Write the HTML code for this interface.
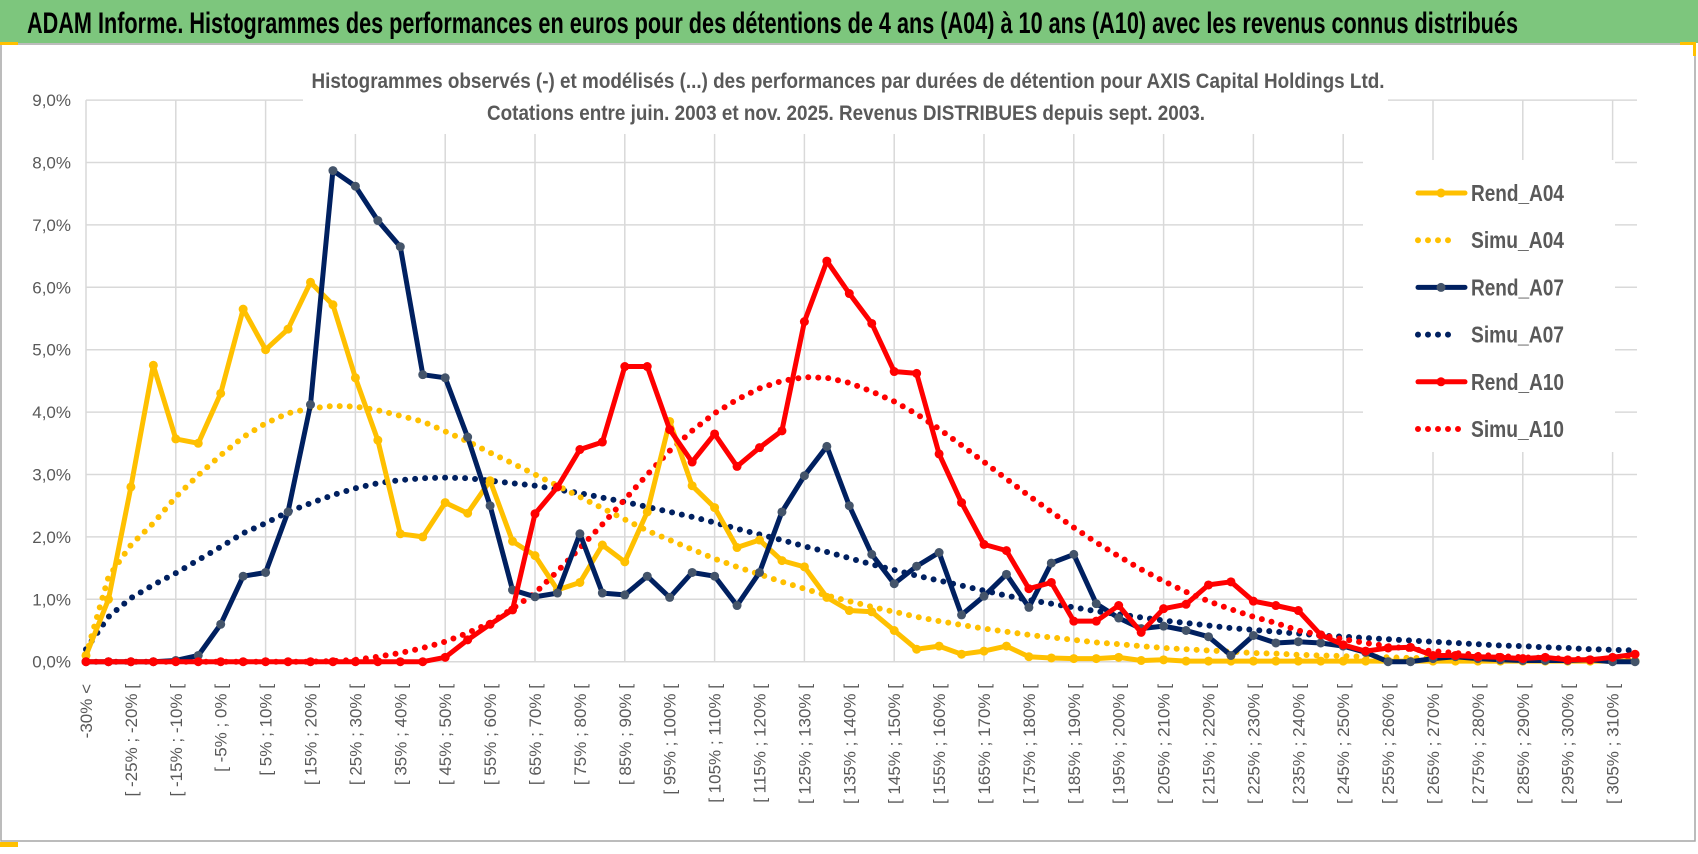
<!DOCTYPE html>
<html><head><meta charset="utf-8"><style>
html,body{margin:0;padding:0;background:#fff;}
svg{display:block;font-family:"Liberation Sans Narrow","Liberation Sans",sans-serif;}
</style></head><body>
<svg id="chart" width="1698" height="854" viewBox="0 0 1698 854" xmlns="http://www.w3.org/2000/svg">
<rect x="0" y="0" width="1698" height="854" fill="#fff"/>
<rect x="0" y="0" width="1698" height="43" fill="#7dc67d"/>
<text x="27" y="33" font-size="30" font-weight="bold" fill="#000" textLength="1491" lengthAdjust="spacingAndGlyphs">ADAM Informe. Histogrammes des performances en euros pour des détentions de 4 ans (A04) à 10 ans (A10) avec les revenus connus distribués</text>
<rect x="1" y="44" width="1694" height="797" fill="none" stroke="#a6a6a6" stroke-width="1.5"/>
<rect x="0" y="42" width="18" height="3" fill="#ffc000"/>
<rect x="1680" y="42" width="15" height="3" fill="#ffc000"/>
<rect x="1693" y="42" width="3" height="14" fill="#ffc000"/>
<rect x="0" y="842" width="18" height="5" fill="#ffc000"/>
<g id="grid"></g>
<rect x="303" y="58" width="1085" height="76" fill="#fff"/>
<text x="848" y="88" font-size="21" font-weight="bold" fill="#595959" text-anchor="middle" textLength="1073" lengthAdjust="spacingAndGlyphs">Histogrammes observés (-) et modélisés (...) des performances par durées de détention pour AXIS Capital Holdings Ltd.</text>
<text x="846" y="120" font-size="21" font-weight="bold" fill="#595959" text-anchor="middle" textLength="718" lengthAdjust="spacingAndGlyphs">Cotations entre juin. 2003 et nov. 2025. Revenus DISTRIBUES depuis sept. 2003.</text>
<g id="ylabels"></g>
<g id="xlabels"></g>
<g id="series"></g>
<g id="legend"></g>
</svg>
<script>
const categories = (function(){const c=["-30% <"];for(let i=1;i<70;i++){const a=-30+5*(i-1);c.push("[ "+a+"% ; "+(a+5)+"% [");}return c;})();
const yTicks = [0,1,2,3,4,5,6,7,8,9];
const yTickLabels = ["0,0%","1,0%","2,0%","3,0%","4,0%","5,0%","6,0%","7,0%","8,0%","9,0%"];
const seriesNames = ["Rend_A04","Simu_A04","Rend_A07","Simu_A07","Rend_A10","Simu_A10"];
const rendA04 = [0.1,1.0,2.8,4.75,3.57,3.5,4.3,5.65,5.0,5.33,6.08,5.72,4.55,3.55,2.05,2.0,2.55,2.38,2.9,1.93,1.7,1.15,1.27,1.87,1.6,2.4,3.85,2.82,2.47,1.83,1.95,1.62,1.52,1.03,0.82,0.8,0.5,0.2,0.25,0.12,0.17,0.25,0.08,0.06,0.05,0.05,0.07,0.02,0.03,0.01,0.01,0.01,0.01,0.01,0.01,0.01,0.01,0.01,0.01,0.01,0.01,0.01,0.01,0.01,0.01,0.01,0.01,0.01,0.01,0.01];
const simuA04 = [0.1,1.36,1.87,2.22,2.64,2.99,3.31,3.6,3.82,3.98,4.06,4.1,4.09,4.03,3.94,3.85,3.69,3.53,3.35,3.18,3.0,2.82,2.64,2.46,2.28,2.1,1.95,1.8,1.65,1.52,1.4,1.28,1.17,1.06,0.97,0.88,0.8,0.72,0.65,0.59,0.53,0.48,0.43,0.39,0.35,0.31,0.28,0.25,0.22,0.2,0.18,0.16,0.14,0.13,0.11,0.1,0.09,0.08,0.07,0.06,0.06,0.05,0.05,0.04,0.04,0.03,0.03,0.03,0.02,0.02];
const rendA07 = [0,0,0,0,0.02,0.1,0.6,1.37,1.43,2.4,4.12,7.87,7.62,7.07,6.65,4.6,4.55,3.6,2.5,1.15,1.04,1.1,2.05,1.1,1.07,1.37,1.03,1.43,1.37,0.9,1.43,2.4,2.98,3.45,2.5,1.72,1.25,1.53,1.75,0.75,1.05,1.4,0.87,1.58,1.72,0.93,0.7,0.53,0.57,0.5,0.4,0.1,0.42,0.3,0.32,0.3,0.25,0.15,0,0,0.05,0.08,0.05,0.03,0.02,0.02,0.02,0.03,0,0];
const simuA07 = [0.2,0.72,1.02,1.23,1.42,1.63,1.84,2.06,2.22,2.4,2.54,2.67,2.78,2.86,2.91,2.94,2.95,2.94,2.9,2.86,2.82,2.76,2.7,2.63,2.56,2.48,2.4,2.32,2.23,2.13,2.04,1.95,1.85,1.76,1.66,1.56,1.47,1.38,1.3,1.22,1.14,1.06,0.99,0.93,0.87,0.81,0.76,0.71,0.66,0.62,0.58,0.54,0.51,0.48,0.45,0.42,0.4,0.38,0.36,0.34,0.32,0.3,0.28,0.26,0.25,0.23,0.22,0.2,0.19,0.18];
const rendA10 = [0,0,0,0,0,0,0,0,0,0,0,0,0,0,0,0,0.07,0.35,0.6,0.83,2.37,2.8,3.4,3.52,4.73,4.73,3.72,3.2,3.65,3.13,3.43,3.7,5.45,6.42,5.9,5.42,4.65,4.62,3.33,2.55,1.88,1.78,1.17,1.27,0.65,0.65,0.9,0.47,0.85,0.92,1.23,1.28,0.97,0.9,0.82,0.43,0.27,0.17,0.22,0.23,0.1,0.1,0.08,0.07,0.05,0.07,0.03,0.03,0.07,0.12];
const simuA10 = [0,0,0,0,0,0,0,0,0,0,0,0.01,0.03,0.08,0.14,0.22,0.32,0.46,0.62,0.85,1.1,1.45,1.82,2.2,2.6,3.0,3.38,3.7,3.98,4.2,4.38,4.5,4.56,4.55,4.47,4.33,4.17,3.97,3.73,3.47,3.2,2.93,2.66,2.4,2.15,1.91,1.69,1.48,1.29,1.12,0.97,0.84,0.72,0.62,0.5,0.43,0.36,0.3,0.25,0.2,0.17,0.14,0.11,0.09,0.07,0.06,0.05,0.04,0.03,0.03];

const NS="http://www.w3.org/2000/svg";
const X0=86, DX=22.45, XR=1637, Y0=661.7, PY=62.4;
function xs(i){return X0+i*DX;}
function ys(v){return Y0-v*PY;}
function mk(tag,parent){const e=document.createElementNS(NS,tag);parent.appendChild(e);return e;}

const grid=document.getElementById('grid');
yTicks.forEach(t=>{const l=mk('line',grid);l.setAttribute('x1',X0);l.setAttribute('x2',XR);l.setAttribute('y1',ys(t));l.setAttribute('y2',ys(t));l.setAttribute('stroke','#d9d9d9');l.setAttribute('stroke-width','1.5');

});
for(let i=0;i<categories.length;i+=4){const l=mk('line',grid);l.setAttribute('x1',xs(i));l.setAttribute('x2',xs(i));l.setAttribute('y1',ys(9));l.setAttribute('y2',Y0);l.setAttribute('stroke','#d9d9d9');l.setAttribute('stroke-width','1.5');

}

const yl=document.getElementById('ylabels');
yTicks.forEach((t,k)=>{const e=mk('text',yl);e.setAttribute('x',71);e.setAttribute('y',ys(t)+6);e.setAttribute('text-anchor','end');e.setAttribute('font-size','17');e.setAttribute('fill','#595959');e.setAttribute('font-family','Liberation Sans, sans-serif');e.textContent=yTickLabels[k];

});

const xl=document.getElementById('xlabels');
categories.forEach((c,i)=>{if(i%2)return;const e=mk('text',xl);const x=xs(i)+6,y=684;e.setAttribute('transform','translate('+x+','+y+') rotate(-90)');e.setAttribute('text-anchor','end');e.setAttribute('font-size','17');e.setAttribute('fill','#595959');e.setAttribute('font-family','Liberation Sans, sans-serif');e.textContent=c;

});

const sg=document.getElementById('series');
const defs=[
 {name:'Simu_A07',data:simuA07,color:'#002060',dotted:true},
 {name:'Simu_A04',data:simuA04,color:'#ffc000',dotted:true},
 {name:'Simu_A10',data:simuA10,color:'#ff0000',dotted:true},
 {name:'Rend_A04',data:rendA04,color:'#ffc000',dotted:false,mfill:'#ffc000'},
 {name:'Rend_A07',data:rendA07,color:'#002060',dotted:false,mfill:'#44546a'},
 {name:'Rend_A10',data:rendA10,color:'#ff0000',dotted:false,mfill:'#ff0000'}
];
defs.forEach(s=>{
 const g=mk('g',sg);
 
 
 const p=mk('polyline',g);
 p.setAttribute('points',s.data.map((v,i)=>xs(i).toFixed(1)+','+ys(v).toFixed(1)).join(' '));
 p.setAttribute('fill','none');p.setAttribute('stroke',s.color);p.setAttribute('stroke-linejoin','round');p.setAttribute('stroke-linecap','round');
 if(s.dotted){p.setAttribute('stroke-width','6');p.setAttribute('stroke-dasharray','0 10');}
 else p.setAttribute('stroke-width','5');
 
 
 if(!s.dotted){s.data.forEach((v,i)=>{const c=mk('circle',g);c.setAttribute('cx',xs(i));c.setAttribute('cy',ys(v));c.setAttribute('r','4.5');c.setAttribute('fill',s.mfill);
 
 });}
});

const lg=document.getElementById('legend');
const bg=mk('rect',lg);bg.setAttribute('x',1363);bg.setAttribute('y',160);bg.setAttribute('width',252);bg.setAttribute('height',292);bg.setAttribute('fill','#fff');
const legCols=['#ffc000','#ffc000','#002060','#002060','#ff0000','#ff0000'];
const legDot=[false,true,false,true,false,true];
const legMk=['#ffc000',null,'#44546a',null,'#ff0000',null];
seriesNames.forEach((n,k)=>{const y=193+k*47.2;const g=mk('g',lg);
 
 
 const l=mk('line',g);l.setAttribute('x1',1418);l.setAttribute('x2',1465);l.setAttribute('y1',y);l.setAttribute('y2',y);l.setAttribute('stroke',legCols[k]);l.setAttribute('stroke-width','5');l.setAttribute('stroke-linecap','round');
 if(legDot[k]){l.setAttribute('stroke-dasharray','0 10');l.setAttribute('stroke-width','6');l.setAttribute('x1',1418);l.setAttribute('x2',k==5?1464:1456);}
 if(legMk[k]){const c=mk('circle',g);c.setAttribute('cx',1441);c.setAttribute('cy',y);c.setAttribute('r','4.5');c.setAttribute('fill',legMk[k]);}
 const t=mk('text',g);t.setAttribute('x',1471);t.setAttribute('y',y+8);t.setAttribute('font-size','23');t.setAttribute('font-weight','bold');t.setAttribute('fill','#595959');t.setAttribute('textLength','93');t.setAttribute('lengthAdjust','spacingAndGlyphs');t.textContent=n;
});
</script>
</body></html>
